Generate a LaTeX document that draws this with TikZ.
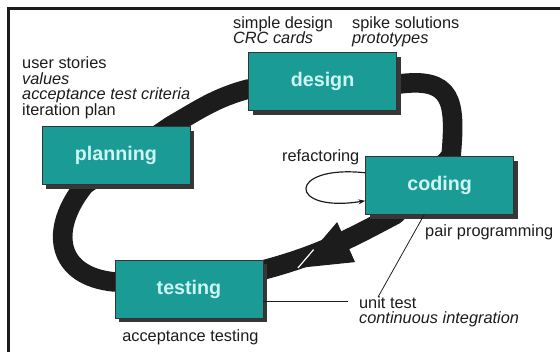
\documentclass[tikz,border=0pt]{standalone}
\usepackage{fontspec}
\setmainfont{Liberation Sans}
\usetikzlibrary{shadows,arrows.meta,backgrounds,calc}

\definecolor{faseverde}{RGB}{27,155,150}
\definecolor{fasetexto}{RGB}{205,245,243}
\definecolor{sombra}{RGB}{55,55,55}
\definecolor{tinta}{RGB}{28,28,28}

\begin{document}
\begin{tikzpicture}[
    phase/.style={rectangle, draw=black!80, line width=0.6pt, fill=faseverde,
      minimum width=5.29cm, minimum height=2.07cm, text=fasetexto,
      font=\fontsize{20}{20}\selectfont\bfseries,
      drop shadow={shadow xshift=0.15cm, shadow yshift=-0.15cm, fill=sombra, opacity=1}},
    note/.style={inner sep=0pt, align=left, text=tinta, font=\fontsize{16.6}{15.8}\selectfont},
    band/.style={line width=0.7cm, draw=tinta, line join=round},
    leader/.style={line width=0.8pt, draw=tinta}
  ]
    \useasboundingbox (0,0) rectangle (20,12.571);
    % marco: solo borde superior e izquierdo
    \draw[line width=2.5pt, tinta] (0.304,0) -- (0.304,12.268) -- (20,12.268);

    % fases del ciclo
    \node[phase] (planning) at (4.14,  7.02) {planning};
    \node[phase] (design)   at (11.52, 9.66) {design};
    \node[phase] (coding)   at (15.70, 5.95) {coding};
    \node[phase] (testing)  at (6.75,  2.25) {testing};

    % banda negra que une las fases (pasa por debajo de las cajas)
    \begin{scope}[on background layer]
      \draw[band] ([xshift=-0.71cm]planning.north east) to[out=30, in=195] ([yshift=-0.27cm]design.west)
        -- ([yshift=-0.1cm]design.east) to[out=8, in=85, looseness=1.6] ([xshift=0.41cm]coding.north)
        -- ([xshift=-1.59cm]coding.south) to[out=208, in=15] ([yshift=0.68cm]testing.east)
        -- ([yshift=0.25cm]testing.west) .. controls +(-2.1,0.2) and +(-1.3,-1.6) .. ([xshift=-1.11cm]planning.south)
        -- cycle;
    \end{scope}

    % punta de flecha grande hacia testing
    \coordinate (punta) at (10.64, 3.00);
    \coordinate (alaA)  at (12.04, 4.64);
    \coordinate (alaB)  at (12.68, 3.21);
    \fill[tinta] (punta) -- (alaA) -- (alaB) -- cycle;
    \draw[white, line width=1.2pt] (punta) -- ($(punta)!0.4!(alaA)$);

    % refactoring: lazo sobre coding
    \draw[leader, line width=1.2pt, -{Stealth[length=7pt, width=5pt]}]
      ([yshift=0.45cm]coding.west) .. controls +(-2.8,0.3) and +(-2.8,-0.45) .. ([yshift=-0.55cm]coding.west);

    % notas de cada fase
    \node[note, anchor=north west] (nplan) at (0.786, 10.55)
      {user stories\\\textit{values}\\\textit{acceptance test criteria}\\iteration plan};
    \node[note, anchor=north west] (nsimple) at (8.32, 12.0) {simple design\\\textit{CRC cards}};
    \node[note, anchor=north west] (nspike) at (12.57, 12.0) {spike solutions\\\textit{prototypes}};
    \node[note, anchor=base west] (nrefac) at (10.07, 6.79) {refactoring};
    \node[note, anchor=base west] (npair) at (15.18, 4.11) {pair programming};
    \node[note, anchor=north west] (nunit) at (12.82, 2.0) {unit test\\\textit{continuous integration}};
    \node[note, anchor=base west] (naccept) at (4.36, 0.357) {acceptance testing};

    % lineas de referencia
    \coordinate (utfin) at (12.43, 1.79);
    \coordinate (ppfin) at (13.50, 1.96);
    \draw[leader] ([yshift=-0.46cm]testing.east) -- (utfin);
    \draw[leader] ([xshift=-0.55cm]coding.south) -- (ppfin);
\end{tikzpicture}
\end{document}
